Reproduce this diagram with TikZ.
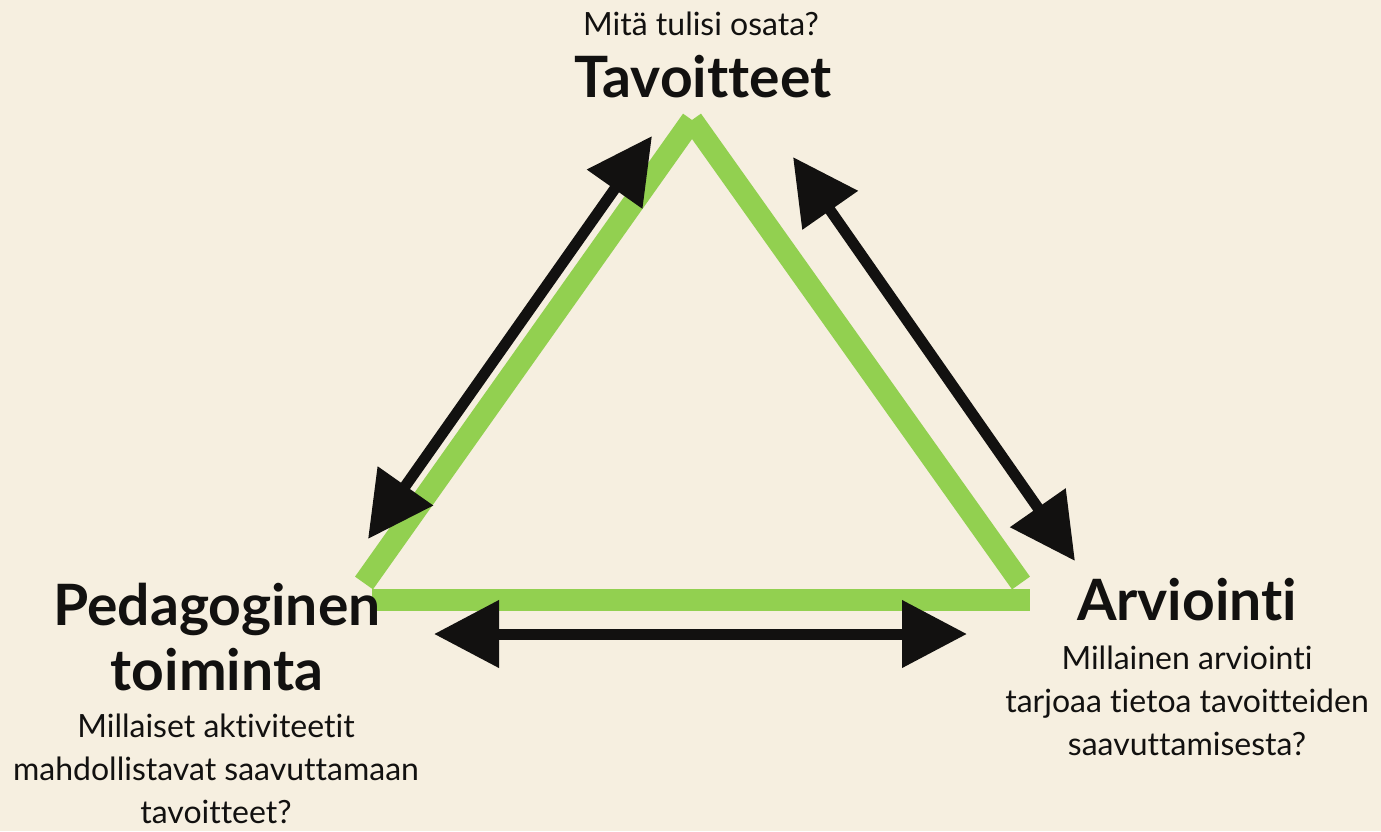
\documentclass[tikz,border=0pt]{standalone}
\usepackage{fontspec}
\setmainfont{Lato}[Ligatures=CommonOff]
\usetikzlibrary{arrows.meta}
\definecolor{bg}{HTML}{F6EFE0}
\definecolor{tri}{HTML}{92D050}
\definecolor{ink}{HTML}{121110}
\begin{document}
\begin{tikzpicture}[x=0.5pt,y=-0.5pt,
  side/.style={draw=tri,line width=11pt},
  link/.style={draw=ink,line width=5.5pt,{Triangle[length=32.5pt,width=32.5pt]}-{Triangle[length=32.5pt,width=32.5pt]}},
  title/.style={font=\fontsize{28.5}{32.5}\selectfont\bfseries,text=ink,inner sep=0pt,align=center},
  question/.style={font=\fontsize{16}{21.5}\selectfont,text=ink,inner sep=0pt,align=center}]
\fill[bg] (0,0) rectangle (1381,831);
\useasboundingbox (0,0) rectangle (1381,831);
% triangle
\coordinate (apex) at (692,120);
\coordinate (bl) at (364,583);
\coordinate (br) at (1021,583);
\coordinate (bs) at (372,600);
\coordinate (be) at (1030,600);
\draw[side] (bl) -- (apex);
\draw[side] (apex) -- (br);
\draw[side] (bs) -- (be);
% arrows
\coordinate (a1) at (652,136);
\coordinate (a2) at (368,539);
\coordinate (b1) at (793,157);
\coordinate (b2) at (1075,561);
\coordinate (c1) at (434,634);
\coordinate (c2) at (967,634);
\draw[link] (a1) -- (a2);
\draw[link] (b1) -- (b2);
\draw[link] (c1) -- (c2);
% texts (anchor base = baseline of the last line)
\node[question,anchor=base] (q1) at (701,35) {Mitä tulisi osata?};
\node[title,anchor=base] (t1) at (703,97) {Tavoitteet};
\node[title,anchor=base] (t2) at (217,690) {Pedagoginen\\toiminta};
\node[question,anchor=base] (q2) at (216,823) {Millaiset aktiviteetit\\mahdollistavat saavuttamaan\\tavoitteet?};
\node[title,anchor=base] (t3) at (1187,620) {Arviointi};
\node[question,anchor=base] (q3) at (1187,755) {Millainen arviointi\\tarjoaa tietoa tavoitteiden\\saavuttamisesta?};
\end{tikzpicture}
\end{document}
